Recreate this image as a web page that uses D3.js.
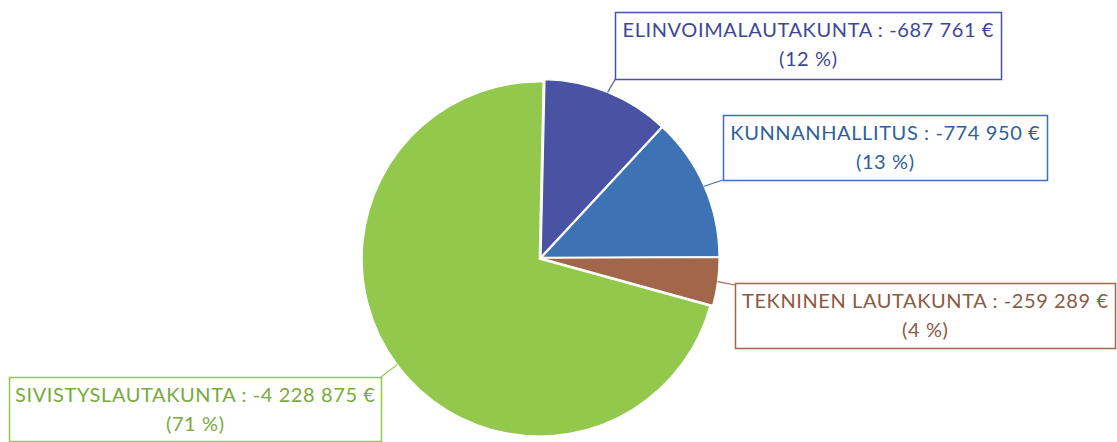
<!DOCTYPE html>
<html>
<head>
<meta charset="utf-8">
<script src="https://cdn.jsdelivr.net/npm/d3@7"></script>
<style>
    body { margin: 0; background: #fff; }
    .lbl { font-family: Lato, "Liberation Sans", sans-serif; font-size: 20px; letter-spacing: 0.6px; }
</style>
</head>
<body>
<div id="chart"></div>
<script>
// data
const categories = ["ELINVOIMALAUTAKUNTA", "KUNNANHALLITUS", "TEKNINEN LAUTAKUNTA", "SIVISTYSLAUTAKUNTA"];
const values = [-687761, -774950, -259289, -4228875];
const colors = ["#4a53a3", "#3d72b4", "#a2674a", "#92c84b"];
const textColors = ["#3e4796", "#2f5f9b", "#8b5a40", "#78aa3c"];

// label boxes (layout)
const boxes = [
    {x: 615, y: 12, w: 386, h: 67, ax: 616, ay: 78},
    {x: 723, y: 115, w: 324, h: 65, ax: 723, ay: 180},
    {x: 735, y: 283, w: 380, h: 65, ax: 735, ay: 285},
    {x: 9, y: 377, w: 372, h: 64, ax: 381, ay: 377}
];

const width = 1117, height = 442;
const cx = 540.5, cy = 258, radius = 177, explode = 1.6;

const svg = d3.select("#chart").append("svg")
    .attr("width", width)
    .attr("height", height);

const locale = d3.formatLocale({decimal: ",", thousands: "\u00a0", grouping: [3], currency: ["", "\u00a0€"], minus: "-"});
const fmt = locale.format(",");

const total = d3.sum(values, d => Math.abs(d));

const pie = d3.pie()
    .sort(null)
    .value(d => Math.abs(d))
    .startAngle(0.022)
    .endAngle(0.022 + 2 * Math.PI);

const arcs = pie(values);
const arc = d3.arc().innerRadius(0).outerRadius(radius);

const g = svg.append("g").attr("transform", "translate(" + cx + "," + cy + ")");

g.selectAll("path.slice")
    .data(arcs)
    .enter().append("path")
    .attr("class", "slice")
    .attr("transform", d => {
        let a = (d.startAngle + d.endAngle) / 2;
        return "translate(" + (Math.sin(a) * explode) + "," + (-Math.cos(a) * explode) + ")";
    })
    .attr("d", arc)
    .attr("fill", (d, i) => colors[i])
    .attr("stroke", "#fff")
    .attr("stroke-width", 1.2);

// leader lines
svg.selectAll("line.leader")
    .data(arcs)
    .enter().append("line")
    .attr("class", "leader")
    .attr("x1", d => cx + Math.sin((d.startAngle + d.endAngle) / 2) * (radius + explode))
    .attr("y1", d => cy - Math.cos((d.startAngle + d.endAngle) / 2) * (radius + explode))
    .attr("x2", (d, i) => boxes[i].ax)
    .attr("y2", (d, i) => boxes[i].ay)
    .attr("stroke", (d, i) => colors[i])
    .attr("stroke-width", 1.2);

// label boxes
const lab = svg.selectAll("g.lbl")
    .data(arcs)
    .enter().append("g")
    .attr("class", "lbl");

lab.append("rect")
    .attr("x", (d, i) => boxes[i].x + 0.5)
    .attr("y", (d, i) => boxes[i].y + 0.5)
    .attr("width", (d, i) => boxes[i].w)
    .attr("height", (d, i) => boxes[i].h)
    .attr("fill", "#fff")
    .attr("stroke", (d, i) => colors[i])
    .attr("stroke-width", 1.5);

lab.append("text")
    .attr("x", (d, i) => boxes[i].x + boxes[i].w / 2 + 0.3)
    .attr("y", (d, i) => boxes[i].y + 25)
    .attr("text-anchor", "middle")
    .attr("fill", (d, i) => textColors[i])
    .text((d, i) => categories[i] + " : " + fmt(values[i]) + " €");

lab.append("text")
    .attr("x", (d, i) => boxes[i].x + boxes[i].w / 2 + 0.3)
    .attr("y", (d, i) => boxes[i].y + 54)
    .attr("text-anchor", "middle")
    .attr("fill", (d, i) => textColors[i])
    .text((d, i) => "(" + Math.round(Math.abs(values[i]) / total * 100) + " %)");
</script>
</body>
</html>
